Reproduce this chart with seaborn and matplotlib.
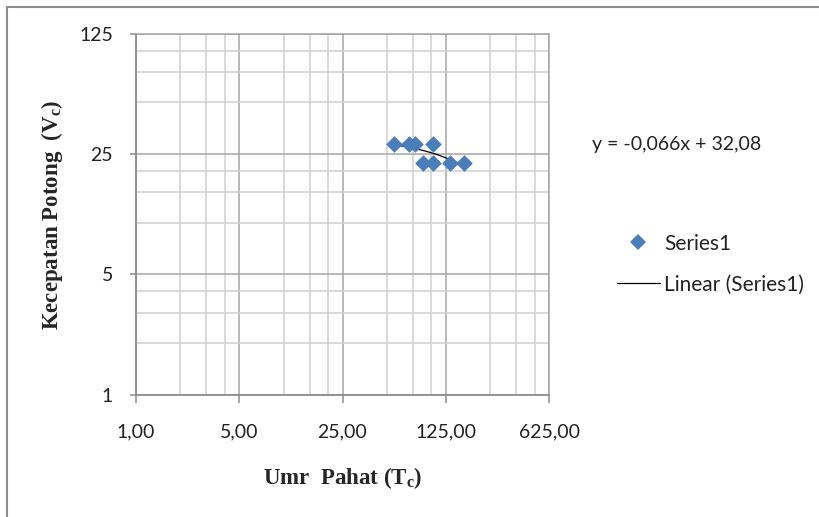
import numpy as np
import pandas as pd
import matplotlib
matplotlib.use("Agg")
import matplotlib.pyplot as plt
import seaborn as sns
from matplotlib.ticker import FixedLocator, FixedFormatter, NullFormatter
from matplotlib.lines import Line2D

# Data (log base 5 axes)
umur_pahat = [56, 71, 77.5, 103, 87.5, 103, 134, 167]
kecepatan = [28.8, 28.8, 28.8, 28.8, 22.3, 22.3, 22.3, 22.3]
trend_slope = -0.066
trend_intercept = 32.08
eq_label = "y = -0,066x + 32,08"

x_ticks = [1, 5, 25, 125, 625]
x_tick_labels = ["1,00", "5,00", "25,00", "125,00", "625,00"]
y_ticks = [1, 5, 25, 125]
y_tick_labels = ["1", "5", "25", "125"]
minor_mult = [2, 3, 4]

df = pd.DataFrame({"Tc": umur_pahat, "Vc": kecepatan})
tx = np.linspace(min(umur_pahat), max(umur_pahat), 100)
trend = pd.DataFrame({"Tc": tx, "Vc": trend_slope * tx + trend_intercept})

sns.set_style("white")
plt.rcParams["font.family"] = ["Lato", "DejaVu Sans"]
plt.rcParams["mathtext.fontset"] = "custom"
plt.rcParams["mathtext.rm"] = "Liberation Serif:bold"
plt.rcParams["mathtext.it"] = "Liberation Serif:bold"

fig = plt.figure(figsize=(8.19, 5.17), dpi=100)
ax = fig.add_axes([136 / 819, 1 - 394.7 / 517, 413 / 819, 360.7 / 517])

ax.set_xscale("log", base=5)
ax.set_yscale("log", base=5)
ax.set_xlim(x_ticks[0], x_ticks[-1])
ax.set_ylim(y_ticks[0], y_ticks[-1])

x_minor = [t * m for t in x_ticks[:-1] for m in minor_mult]
y_minor = [t * m for t in y_ticks[:-1] for m in minor_mult]
ax.xaxis.set_major_locator(FixedLocator(x_ticks))
ax.xaxis.set_major_formatter(FixedFormatter(x_tick_labels))
ax.xaxis.set_minor_locator(FixedLocator(x_minor))
ax.xaxis.set_minor_formatter(NullFormatter())
ax.yaxis.set_major_locator(FixedLocator(y_ticks))
ax.yaxis.set_major_formatter(FixedFormatter(y_tick_labels))
ax.yaxis.set_minor_locator(FixedLocator(y_minor))
ax.yaxis.set_minor_formatter(NullFormatter())

ax.grid(True, which="major", color="#a6a6a6", linewidth=1.1)
ax.grid(True, which="minor", color="#d0d0d0", linewidth=1.1)
ax.set_axisbelow(True)

for side in ["left", "bottom"]:
    ax.spines[side].set_color("#8c8c8c")
    ax.spines[side].set_linewidth(1.3)
for side in ["top", "right"]:
    ax.spines[side].set_color("#a6a6a6")
    ax.spines[side].set_linewidth(1.1)

ax.tick_params(axis="x", which="major", direction="out", length=6, width=1.1,
               color="#8c8c8c", pad=15, labelsize=14, labelcolor="#222222", bottom=True)
ax.tick_params(axis="y", which="major", direction="out", length=4.5, width=1.1,
               color="#8c8c8c", pad=12, labelsize=14, labelcolor="#222222", left=True)
ax.tick_params(which="minor", length=0)

# points + linear trend line
sns.lineplot(data=trend, x="Tc", y="Vc", ax=ax, color="black", linewidth=0.9,
             label="Linear (Series1)", legend=False, zorder=3)
sns.scatterplot(data=df, x="Tc", y="Vc", ax=ax, marker="D", s=72, color="#4a7ebb",
                edgecolor="#4a7ebb", linewidth=0, label="Series1", legend=False, zorder=4)

ax.set_xlabel("Umr  Pahat (T$_\\mathrm{c}$)", fontsize=16.5, fontweight="bold",
              family="Liberation Serif", va="center")
ax.set_ylabel("Kecepatan Potong  (V$_\\mathrm{c}$)", fontsize=16.5, fontweight="bold",
              family="Liberation Serif", va="center")
ax.xaxis.set_label_coords(0.5, (394.7 - 478) / 360.7)
ax.yaxis.set_label_coords((52 - 136) / 413, 0.5)

fig.text(592 / 819, 1 - 145 / 517, eq_label, fontsize=14, ha="left", va="center",
         color="#222222")

handles = [
    Line2D([], [], marker="D", linestyle="none", markersize=8.5, color="#4a7ebb",
           markeredgewidth=0),
    Line2D([], [], color="black", linewidth=0.9),
]
fig.legend(handles, ["Series1", "Linear (Series1)"], loc="center left",
           bbox_to_anchor=(617 / 819, 1 - 264 / 517), frameon=False, fontsize=15,
           handlelength=2.05, handletextpad=0.2, labelspacing=1.0, borderpad=0,
           borderaxespad=0, labelcolor="#222222")

# outer chart border (left and top edges visible)
fig.add_artist(Line2D([7 / 819, 7 / 819], [0, 1 - 7 / 517], color="#8c8c8c", linewidth=1.5))
fig.add_artist(Line2D([7 / 819, 1], [1 - 7 / 517, 1 - 7 / 517], color="#8c8c8c", linewidth=1.5))

fig.savefig("out.png", dpi=100)
